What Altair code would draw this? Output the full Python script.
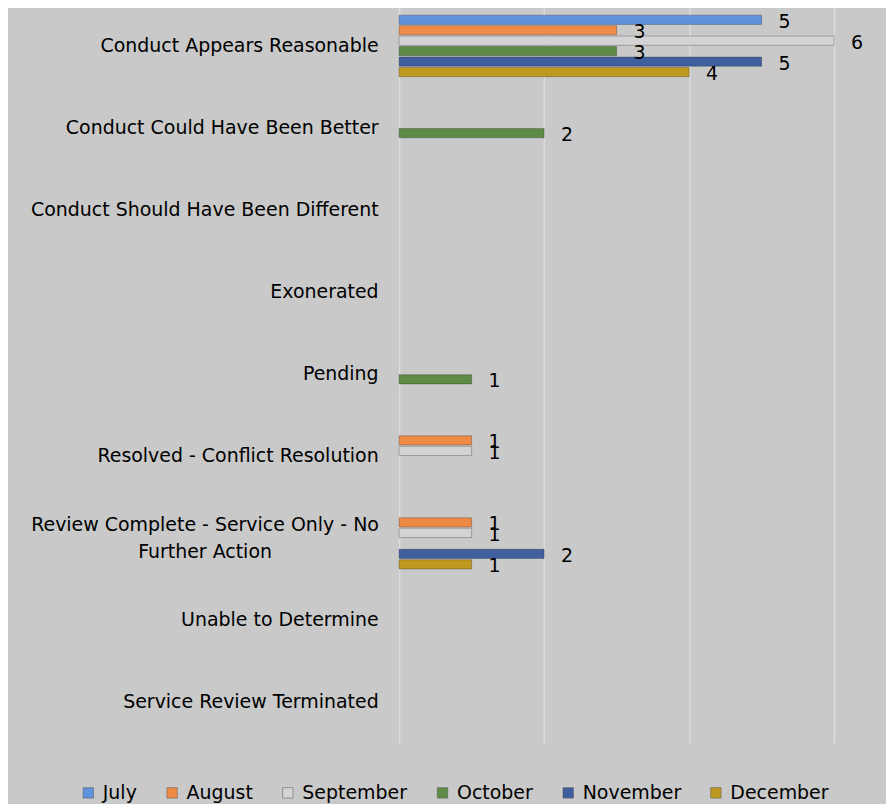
import altair as alt
import pandas as pd

categories = [
    "Conduct Appears Reasonable",
    "Conduct Could Have Been Better",
    "Conduct Should Have Been Different",
    "Exonerated",
    "Pending",
    "Resolved - Conflict Resolution",
    "Review Complete - Service Only - No Further Action",
    "Unable to Determine",
    "Service Review Terminated",
]
months = ["July", "August", "September", "October", "November", "December"]
july = [5, 0, 0, 0, 0, 0, 0, 0, 0]
august = [3, 0, 0, 0, 0, 1, 1, 0, 0]
september = [6, 0, 0, 0, 0, 1, 1, 0, 0]
october = [3, 2, 0, 0, 1, 0, 0, 0, 0]
november = [5, 0, 0, 0, 0, 0, 2, 0, 0]
december = [4, 0, 0, 0, 0, 0, 1, 0, 0]
colors = ["#5F93DD", "#EE8A45", "#D3D3D3", "#5E8B45", "#3F5F9E", "#BF981F"]

series = [july, august, september, october, november, december]
rows = []
for m, vals in zip(months, series):
    for c, v in zip(categories, vals):
        if v > 0:
            rows.append({"category": c, "month": m, "value": v})
df = pd.DataFrame(rows)

FONT = "DejaVu Sans"
FS = 19
long_label = "Review Complete - Service Only - No Further Action"
is_long = f"datum.value == '{long_label}'"
label_expr = (
    f"{is_long} ? ['Review Complete - Service Only - No', 'Further Action'] : datum.value"
)

y_scale = alt.Scale(domain=categories, paddingInner=0.25, paddingOuter=0.125)
y_enc = alt.Y(
    "category:N",
    sort=categories,
    scale=y_scale,
    axis=alt.Axis(
        title=None, domain=False, ticks=False,
        labelPadding={"condition": {"test": is_long, "value": 195}, "value": 21},
        labelAlign={"condition": {"test": is_long, "value": "center"}, "value": "right"},
        labelFont=FONT, labelFontSize=FS, labelColor="#000000",
        labelLimit=600, labelLineHeight=27, labelExpr=label_expr,
        labelOffset={"condition": {"test": is_long, "value": -13.5}, "value": 0},
    ),
)
yoff = alt.YOffset("month:N", sort=months,
                   scale=alt.Scale(domain=months, paddingInner=0.12))
x_enc = alt.X(
    "value:Q",
    scale=alt.Scale(domain=[0, 6], nice=False),
    axis=alt.Axis(
        title=None, labels=False, ticks=False, domain=False,
        values=[0, 2, 4, 6], grid=True, gridColor="#DCDCDC", gridWidth=1.5,
    ),
)

base = alt.Chart(df)
bars = base.mark_bar(stroke="#000000", strokeOpacity=0.3, strokeWidth=0.8).encode(
    y=y_enc,
    yOffset=yoff,
    x=x_enc,
    color=alt.Color(
        "month:N", sort=months,
        scale=alt.Scale(domain=months, range=colors),
        legend=alt.Legend(
            title=None, orient="none", direction="horizontal",
            legendX=-321, legendY=780, symbolType="square", symbolSize=110,
            symbolStrokeColor="#555555", symbolStrokeWidth=0.5,
            labelFont=FONT, labelFontSize=FS, labelColor="#000000",
            columnPadding=25, labelOffset=5,
        ),
    ),
)
labels = base.mark_text(
    align="left", baseline="middle", dx=17, dy=2,
    font=FONT, fontSize=FS, color="#000000",
).encode(
    y=alt.Y("category:N", sort=categories, scale=y_scale),
    yOffset=yoff,
    x=alt.X("value:Q", scale=alt.Scale(domain=[0, 6], nice=False)),
    text="value:Q",
)

chart = (
    alt.layer(bars, labels)
    .properties(width=436, height=740, background="#C9C9C9",
                padding={"left": 22, "top": -4, "right": 22, "bottom": 0})
    .configure_view(stroke=None)
)
chart.save("out.html", embed_options={"renderer": "svg", "actions": False})
